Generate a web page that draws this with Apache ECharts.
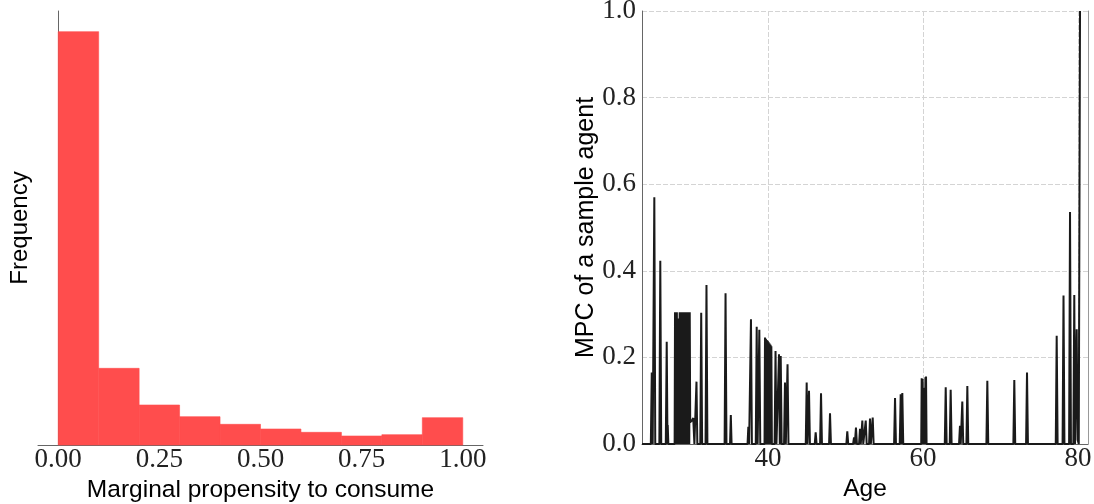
<!DOCTYPE html>
<html>
<head>
<meta charset="utf-8">
<script src="https://cdn.jsdelivr.net/npm/echarts@6/dist/echarts.min.js"></script>
<style>
html,body{margin:0;padding:0;background:#fff;}
#chart{width:1094px;height:504px;}
</style>
</head>
<body>
<div id="chart"></div>
<script>
// ---- Histogram data (bin edges and relative frequencies) ----
const binEdges = [0.0, 0.1, 0.2, 0.3, 0.4, 0.5, 0.6, 0.7, 0.8, 0.9, 1.0];
const binCounts = [1240, 230, 120, 85, 62, 48, 38, 27, 31, 82];
const histTicks = [0, 0.25, 0.5, 0.75, 1.0];

// ---- MPC of a sample agent over age: [age, mpc] path points ----
const mpcPath = [
  [23.75,0],[24.88,0],[25.0,0.165],[25.12,0],[25.22,0],[25.33,0.57],[25.45,0],
  [25.98,0],[26.1,0.423],[26.22,0],
  [26.81,0],[26.93,0.236],[27.03,0],[27.06,0.044],[27.14,0],
  [27.95,0],[28.0,0.304],[28.06,0],[28.12,0.304],[28.18,0],[28.24,0.304],[28.3,0],
  [28.36,0.29],[28.42,0],[28.48,0.29],[28.54,0],[28.6,0.304],[28.66,0],[28.72,0.304],
  [28.78,0],[28.84,0.304],[28.9,0],[28.96,0.304],[29.02,0],[29.08,0.304],[29.14,0],
  [29.26,0],[29.3,0.304],[29.36,0],[29.42,0.304],[29.48,0],[29.54,0.304],[29.6,0],
  [29.66,0.304],[29.72,0],[29.78,0.304],[29.84,0],[29.9,0.304],[29.96,0.05],
  [30.1,0.05],[30.2,0.055],[30.35,0.06],[30.45,0.06],[30.5,0],
  [30.65,0],[30.77,0.144],[30.88,0],
  [31.26,0],[31.38,0.303],[31.5,0],
  [31.94,0],[32.06,0.367],[32.18,0],
  [34.4,0],[34.52,0.348],[34.64,0],
  [35.1,0],[35.2,0.067],[35.3,0],
  [37.36,0],[37.46,0.04],[37.56,0],[37.7,0],[37.8,0.288],[37.92,0],
  [38.42,0],[38.54,0.271],[38.66,0],[38.76,0],[38.88,0.264],[39.0,0],
  [39.55,0],[39.61,0.246],[39.67,0],[39.73,0.243],[39.79,0],[39.85,0.24],[39.91,0.122],
  [39.97,0.238],[40.03,0],[40.09,0.235],[40.15,0],[40.21,0.232],[40.27,0],[40.33,0.229],
  [40.39,0],[40.43,0.226],[40.5,0],
  [40.85,0],[40.97,0.215],[41.09,0],[41.3,0],[41.42,0.207],[41.52,0],[41.56,0],[41.64,0.203],[41.76,0],
  [42.07,0],[42.19,0.142],[42.3,0],[42.4,0],[42.52,0.184],[42.64,0],
  [44.87,0],[44.99,0.142],[45.1,0],[45.18,0],[45.29,0.123],[45.41,0],
  [46.03,0],[46.15,0.027],[46.27,0],[46.72,0],[46.84,0.117],[46.96,0],
  [47.88,0],[48.0,0.071],[48.12,0],
  [50.11,0],[50.23,0.029],[50.35,0],
  [50.98,0],[51.1,0.015],[51.2,0],[51.25,0],[51.35,0.038],[51.47,0],
  [51.75,0],[51.87,0.035],[51.97,0],[52.05,0],[52.17,0.054],[52.29,0],
  [52.49,0],[52.61,0.054],[52.73,0],
  [53.04,0],[53.16,0.059],[53.27,0],[53.4,0],[53.51,0.061],[53.63,0],
  [56.27,0],[56.39,0.106],[56.51,0],
  [57.0,0],[57.12,0.115],[57.2,0.02],[57.25,0],[57.33,0.118],[57.45,0],
  [59.77,0],[59.83,0.152],[59.89,0],[59.95,0.15],[60.01,0],[60.07,0.12],[60.13,0],
  [60.19,0.13],[60.25,0],[60.31,0.154],[60.37,0],[60.39,0.156],[60.46,0],
  [62.81,0],[62.93,0.131],[63.05,0],
  [63.45,0],[63.57,0.125],[63.69,0],
  [64.65,0],[64.77,0.042],[64.87,0],[64.95,0],[65.07,0.098],[65.19,0],
  [65.6,0],[65.72,0.134],[65.84,0],
  [68.18,0],[68.3,0.146],[68.42,0],
  [71.66,0],[71.78,0.148],[71.9,0],
  [73.3,0],[73.42,0.165],[73.54,0],
  [77.13,0],[77.25,0.25],[77.37,0],
  [78.01,0],[78.13,0.343],[78.25,0],
  [78.85,0],[78.97,0.536],[79.09,0],
  [79.4,0],[79.52,0.344],[79.62,0],
  [79.72,0],[79.83,0.265],[79.95,0.01],[80.1,0],[80.26,1.0]
];
const ageTicks = [40, 60, 80];

const histData = binCounts.map((c, i) => [binEdges[i], binEdges[i + 1], c]);

const serifFont = 'Liberation Serif';
const sansFont = 'Liberation Sans';
const spineColor = '#666';
const gridLine = { show: true, lineStyle: { color: '#d4d4d4', width: 1, type: [5, 2] } };

const chart = echarts.init(document.getElementById('chart'), null, { renderer: 'canvas' });
chart.setOption({
  animation: false,
  backgroundColor: '#ffffff',
  grid: [
    { left: 38, right: 611, top: 11, bottom: 59, containLabel: false, outerBoundsMode: 'none' },
    { left: 642, right: 6, top: 11, bottom: 60, containLabel: false, outerBoundsMode: 'none' }
  ],
  xAxis: [
    {
      gridIndex: 0, type: 'value', min: -0.05, max: 1.05,
      name: 'Marginal propensity to consume', nameLocation: 'middle', nameGap: 23,
      nameTextStyle: { fontFamily: sansFont, fontSize: 24.5, color: '#000' },
      axisLine: { show: true, lineStyle: { color: spineColor, width: 1 } },
      axisTick: { show: false, customValues: histTicks },
      splitLine: { show: false },
      axisLabel: { customValues: histTicks, margin: 1, fontFamily: serifFont, fontSize: 27, color: '#222',
        formatter: v => v.toFixed(2) }
    },
    {
      gridIndex: 1, type: 'value', min: 23.74, max: 81.29,
      name: 'Age', nameLocation: 'middle', nameGap: 23,
      nameTextStyle: { fontFamily: sansFont, fontSize: 24.5, color: '#000' },
      axisLine: { show: true, lineStyle: { color: spineColor, width: 1 } },
      axisTick: { show: false, customValues: ageTicks },
      splitLine: gridLine,
      axisLabel: { customValues: ageTicks, margin: 1, fontFamily: serifFont, fontSize: 27, color: '#222' }
    }
  ],
  yAxis: [
    {
      gridIndex: 0, type: 'value', min: 0, max: 1302,
      name: 'Frequency', nameLocation: 'middle', nameGap: 6,
      nameTextStyle: { fontFamily: sansFont, fontSize: 24, color: '#000' },
      axisLine: { show: true, lineStyle: { color: spineColor, width: 1 } },
      axisTick: { show: false }, axisLabel: { show: false }, splitLine: { show: false }
    },
    {
      gridIndex: 1, type: 'value', min: 0, max: 1, interval: 0.2,
      name: 'MPC of a sample agent', nameLocation: 'middle', nameGap: 34,
      nameTextStyle: { fontFamily: sansFont, fontSize: 25, color: '#000' },
      axisLine: { show: true, lineStyle: { color: spineColor, width: 1 } },
      axisTick: { show: false },
      splitLine: gridLine,
      axisLabel: { margin: 6, fontFamily: serifFont, fontSize: 27, color: '#222',
        formatter: v => v.toFixed(1) }
    },
    {
      gridIndex: 1, type: 'value', min: 0, max: 1, position: 'right',
      axisLine: { show: true, lineStyle: { color: '#999', width: 1 } },
      axisTick: { show: false }, axisLabel: { show: false }, splitLine: { show: false }
    }
  ],
  series: [
    {
      type: 'custom', xAxisIndex: 0, yAxisIndex: 0,
      data: histData,
      encode: { x: [0, 1], y: 2 },
      renderItem: function (params, api) {
        const p0 = api.coord([api.value(0), api.value(2)]);
        const p1 = api.coord([api.value(1), 0]);
        return {
          type: 'rect',
          shape: { x: p0[0], y: p0[1], width: p1[0] - p0[0], height: p1[1] - p0[1] },
          style: { fill: '#ff4d4d', stroke: '#ff4d4d', lineWidth: 0.6 }
        };
      }
    },
    {
      type: 'line', xAxisIndex: 1, yAxisIndex: 1,
      data: mpcPath, showSymbol: false, symbol: 'none',
      lineStyle: { color: '#1a1a1a', width: 2 },
      clip: true, z: 3
    }
  ]
});
</script>
</body>
</html>
